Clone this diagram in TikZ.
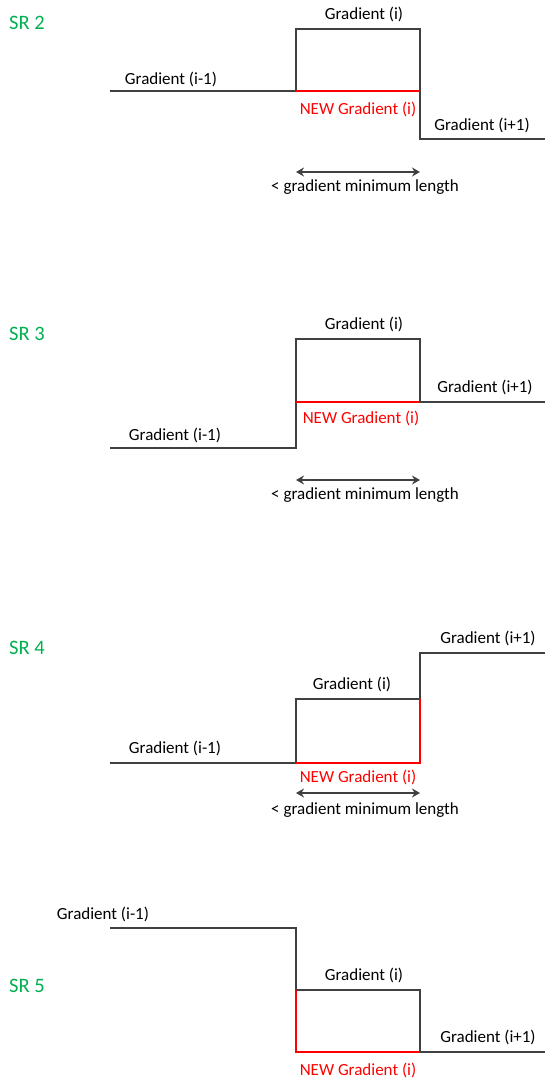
\documentclass[tikz,border=0pt]{standalone}
\usepackage{fontspec}
\setmainfont{Carlito}
\usetikzlibrary{arrows.meta}
\definecolor{stepgray}{HTML}{404040}
\definecolor{srgreen}{HTML}{00B050}
\definecolor{newred}{HTML}{FF0000}
\begin{document}
\begin{tikzpicture}[x=1pt,y=-1pt,
  profile/.style={draw=stepgray,line width=2.2pt,line join=miter},
  newseg/.style={draw=newred,line width=2.2pt,line join=miter},
  lbl/.style={font=\fontsize{17}{21}\selectfont,text=black,inner sep=0pt},
  newlbl/.style={lbl,text=newred},
  srlbl/.style={font=\fontsize{20.5}{24}\selectfont,text=srgreen,anchor=west,inner sep=0pt},
  spanarrow/.style={draw=stepgray,line width=2.2pt,
    {Stealth[length=8pt,width=9pt]}-{Stealth[length=8pt,width=9pt]}}]
\useasboundingbox (0,0) rectangle (545,1080);

% ---------- SR 2 ----------
\node[srlbl] (sr2) at (9,23) {SR 2};
\coordinate (a0) at (110,91);  \coordinate (a1) at (296,91);
\coordinate (a2) at (296,29);  \coordinate (a3) at (420,29);
\coordinate (a4) at (420,91);  \coordinate (a5) at (420,139);
\coordinate (a6) at (545,139);
\draw[profile] (a0) -- (a1) -- (a2) -- (a3) -- (a5) -- (a6);
\draw[newseg] (a1) -- (a4);
\node[lbl] (a-gi) at (364,14) {Gradient (i)};
\node[lbl] (a-gprev) at (171,79) {Gradient (i-1)};
\node[newlbl] (a-new) at (358,109) {NEW Gradient (i)};
\node[lbl] (a-gnext) at (482,125) {Gradient (i+1)};
\coordinate (a-l) at (296,172); \coordinate (a-r) at (420,172);
\draw[spanarrow] (a-l) -- (a-r);
\node[lbl] (a-min) at (365,187) {< gradient minimum length};

% ---------- SR 3 ----------
\node[srlbl] (sr3) at (9,334) {SR 3};
\coordinate (b0) at (110,448); \coordinate (b1) at (296,448);
\coordinate (b2) at (296,339); \coordinate (b3) at (420,339);
\coordinate (b4) at (420,402); \coordinate (b5) at (545,402);
\coordinate (b6) at (296,402);
\draw[profile] (b0) -- (b1) -- (b2) -- (b3) -- (b4) -- (b5);
\draw[newseg] (b6) -- (b4);
\node[lbl] (b-gi) at (364,324) {Gradient (i)};
\node[lbl] (b-gprev) at (175,435) {Gradient (i-1)};
\node[newlbl] (b-new) at (361,418) {NEW Gradient (i)};
\node[lbl] (b-gnext) at (485,387) {Gradient (i+1)};
\coordinate (b-l) at (296,480); \coordinate (b-r) at (420,480);
\draw[spanarrow] (b-l) -- (b-r);
\node[lbl] (b-min) at (365,495) {< gradient minimum length};

% ---------- SR 4 ----------
\node[srlbl] (sr4) at (9,648) {SR 4};
\coordinate (c0) at (110,763); \coordinate (c1) at (296,763);
\coordinate (c2) at (296,699); \coordinate (c3) at (420,699);
\coordinate (c4) at (420,653); \coordinate (c5) at (545,653);
\coordinate (c6) at (420,763);
\draw[profile] (c0) -- (c1) -- (c2) -- (c3) -- (c4) -- (c5);
\draw[newseg] (c1) -- (c6) -- (c3);
\node[lbl] (c-gnext) at (488,638) {Gradient (i+1)};
\node[lbl] (c-gi) at (352,684) {Gradient (i)};
\node[lbl] (c-gprev) at (175,748) {Gradient (i-1)};
\node[newlbl] (c-new) at (358,777) {NEW Gradient (i)};
\coordinate (c-l) at (296,793); \coordinate (c-r) at (420,793);
\draw[spanarrow] (c-l) -- (c-r);
\node[lbl] (c-min) at (365,810) {< gradient minimum length};

% ---------- SR 5 ----------
\node[srlbl] (sr5) at (9,986) {SR 5};
\coordinate (d0) at (110,928);  \coordinate (d1) at (296,928);
\coordinate (d2) at (296,990);  \coordinate (d3) at (420,990);
\coordinate (d4) at (420,1052); \coordinate (d5) at (545,1052);
\coordinate (d6) at (296,1052);
\draw[profile] (d0) -- (d1) -- (d2) -- (d3) -- (d4) -- (d5);
\draw[newseg] (d2) -- (d6) -- (d4);
\node[lbl] (d-gprev) at (103,914) {Gradient (i-1)};
\node[lbl] (d-gi) at (364,975) {Gradient (i)};
\node[lbl] (d-gnext) at (488,1037) {Gradient (i+1)};
\node[newlbl] (d-new) at (358,1070) {NEW Gradient (i)};
\end{tikzpicture}
\end{document}
